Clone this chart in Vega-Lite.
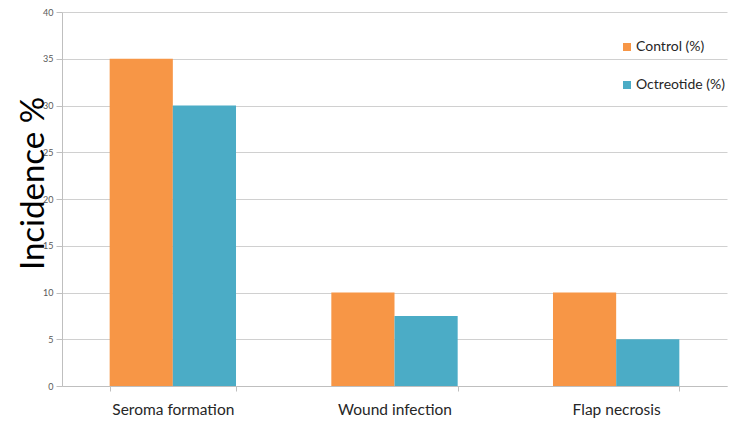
{
  "$schema": "https://vega.github.io/schema/vega-lite/v6.json",
  "width": 665,
  "height": 374,
  "autosize": "none",
  "padding": {"left": 62, "top": 12, "right": 23, "bottom": 46},
  "background": "white",
  "data": {
    "values": [
      {"outcome": "Seroma formation", "group": "Control (%)", "value": 35},
      {"outcome": "Seroma formation", "group": "Octreotide (%)", "value": 30},
      {"outcome": "Wound infection", "group": "Control (%)", "value": 10},
      {"outcome": "Wound infection", "group": "Octreotide (%)", "value": 7.5},
      {"outcome": "Flap necrosis", "group": "Control (%)", "value": 10},
      {"outcome": "Flap necrosis", "group": "Octreotide (%)", "value": 5}
    ]
  },
  "mark": {"type": "bar"},
  "encoding": {
    "x": {
      "field": "outcome",
      "type": "nominal",
      "sort": ["Seroma formation", "Wound infection", "Flap necrosis"],
      "scale": {"paddingInner": 0.43, "paddingOuter": 0.215},
      "axis": {
        "title": null,
        "labelAngle": 0,
        "labelFont": "Lato",
        "labelFontSize": 15.5,
        "labelColor": "#262626",
        "labelPadding": 11,
        "tickBand": "extent",
        "tickSize": 5,
        "tickColor": "#BFBFBF",
        "domainColor": "#BFBFBF",
        "grid": false
      }
    },
    "xOffset": {
      "field": "group",
      "type": "nominal",
      "scale": {"paddingInner": 0, "paddingOuter": 0}
    },
    "y": {
      "field": "value",
      "type": "quantitative",
      "scale": {"domain": [0, 40], "nice": false},
      "axis": {
        "title": "Incidence %",
        "values": [0, 5, 10, 15, 20, 25, 30, 35, 40],
        "labelFont": "Lato",
        "labelFontSize": 9,
        "labelColor": "#595959",
        "labelPadding": 3,
        "tickSize": 6,
        "tickColor": "#BFBFBF",
        "domainColor": "#BFBFBF",
        "gridColor": "#D0D0D0",
        "titleFont": "Lato",
        "titleFontSize": 33,
        "titleFontWeight": "normal",
        "titleColor": "#000000",
        "titleAngle": -90,
        "titleX": -29,
        "titleY": 171,
        "titleAlign": "center",
        "titleBaseline": "middle"
      }
    },
    "color": {
      "field": "group",
      "type": "nominal",
      "scale": {"domain": ["Control (%)", "Octreotide (%)"], "range": ["#F79646", "#4BACC6"]},
      "legend": {
        "title": null,
        "orient": "none",
        "legendX": 558,
        "legendY": 28,
        "symbolType": "square",
        "symbolSize": 64,
        "symbolStrokeWidth": 0,
        "labelFont": "Lato",
        "labelFontSize": 14,
        "labelColor": "#262626",
        "rowPadding": 24,
        "labelOffset": 2
      }
    }
  },
  "config": {
    "view": {"stroke": null}
  }
}
